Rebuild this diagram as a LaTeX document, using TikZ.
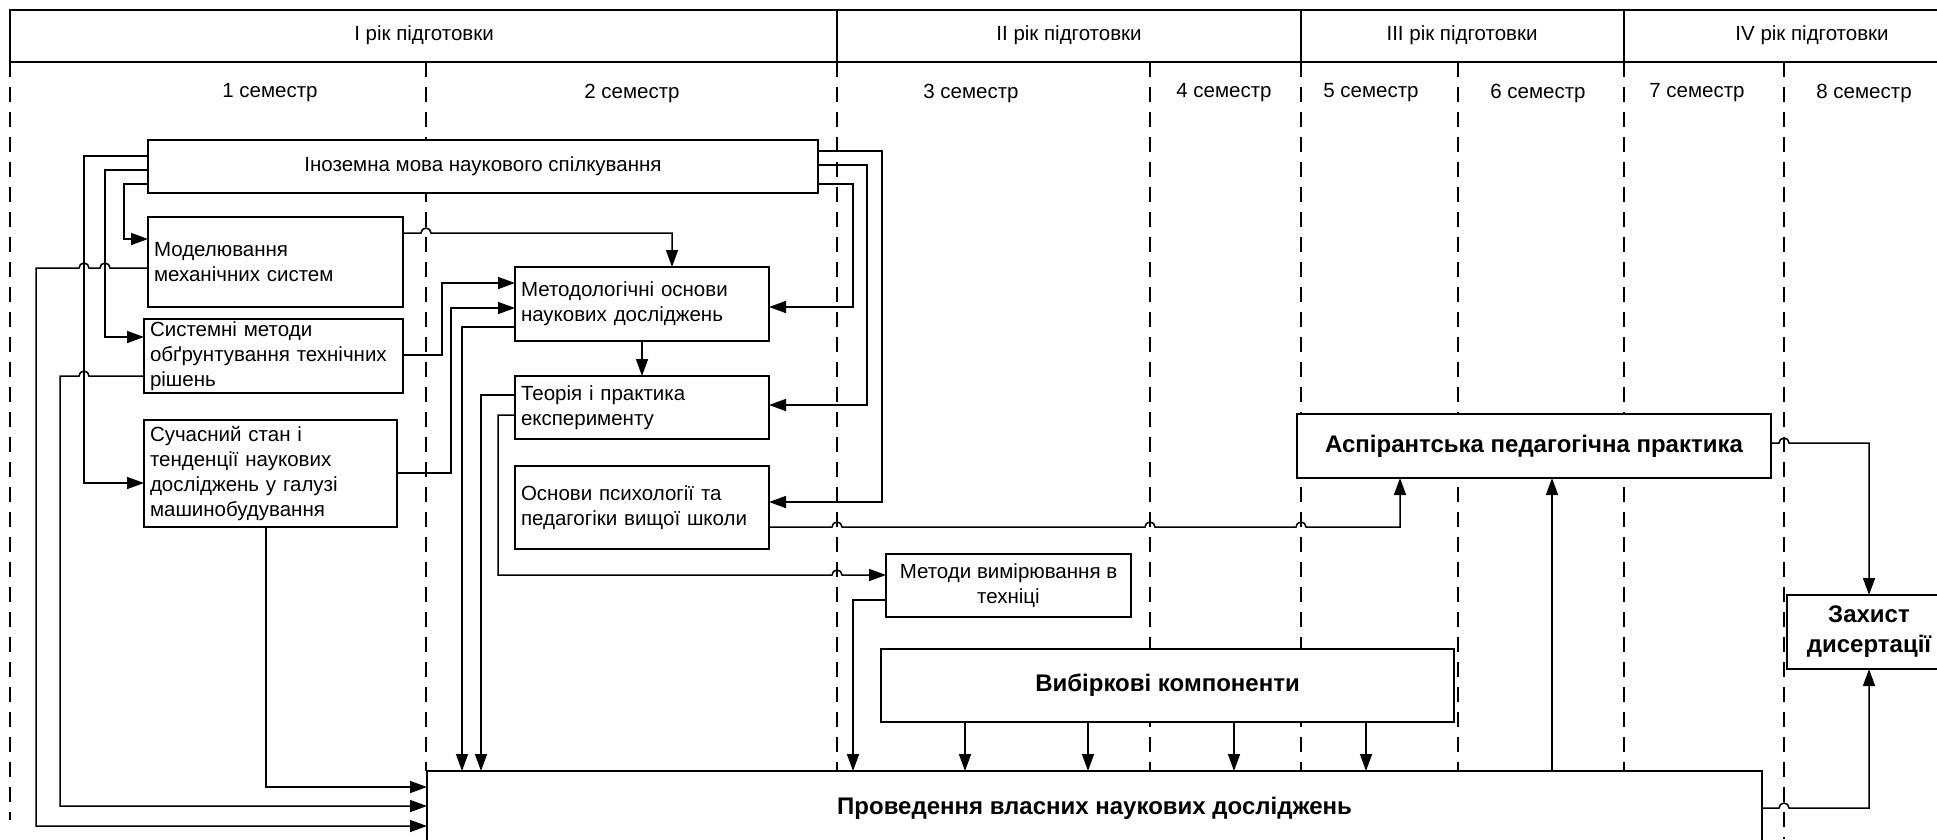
\documentclass[tikz,border=0pt]{standalone}
\usepackage{fontspec}
\setmainfont{Liberation Sans}
\usetikzlibrary{arrows.meta}
\newcommand{\hopr}[2]{-- (#1-5,#2) arc[start angle=180,end angle=0,radius=5pt]}
\newcommand{\hopl}[2]{-- (#1+5,#2) arc[start angle=0,end angle=180,radius=5pt]}

\begin{document}
\begin{tikzpicture}[x=1pt,y=-1pt,
    frame/.style={line width=1.7pt},
    semline/.style={line width=1.5pt,dash pattern=on 15pt off 10pt},
    lbl/.style={font=\fontsize{20.5}{25}\selectfont},
    box/.style={draw,fill=white,line width=1.8pt,outer sep=0pt,inner xsep=6pt,inner ysep=0pt,
      anchor=north west,font=\fontsize{20.5}{25}\selectfont},
    lbox/.style={box,align=left},
    cbox/.style={box,align=center},
    bbox/.style={box,align=center,font=\fontsize{24}{30}\selectfont\bfseries},
    conn/.style={line width=1.5pt},
    arr/.style={conn,-{Triangle[length=17pt,width=12pt]}}]
  \useasboundingbox (0,0) rectangle (1937,839);
  \clip (0,0) rectangle (1937,839);
  \draw[frame] (10,62) -- (10,10) -- (2000,10);
  \draw[frame] (10,62) -- (2000,62);
  \foreach \x in {837,1301,1624}
    \draw[frame] (\x,10) -- (\x,62);
  \node[lbl] (year1) at (424,35) {I рік підготовки};
  \node[lbl] (year2) at (1069,35) {II рік підготовки};
  \node[lbl] (year3) at (1462,35) {III рік підготовки};
  \node[lbl] (year4) at (1812,35) {IV рік підготовки};
  \foreach \x/\s in {270/1,632/2,971/3,1224/4,1371/5,1538/6,1697/7,1864/8}
    \node[lbl] (sem\s) at (\x,93) {\s\ семестр};
  \foreach \x in {426,837,1150,1301,1458,1624}
    \draw[semline] (\x,62) -- (\x,771);
  \draw[semline] (10,62) -- (10,820);
  \draw[semline] (1784,62) -- (1784,839);

  \node[cbox,minimum width=670pt,minimum height=53pt] (inoz) at (148,140) {Іноземна мова наукового спілкування};
  \node[lbox,text width=243pt,minimum height=90pt] (model) at (148,217) {Моделювання\\механічних систем};
  \node[lbox,text width=247pt,minimum height=74pt] (sysm) at (144,319) {Системні методи\\обґрунтування технічних\\рішень};
  \node[lbox,text width=241pt,minimum height=107pt] (suchas) at (144,420) {Сучасний стан і\\тенденції наукових\\досліджень у галузі\\машинобудування};
  \node[lbox,text width=242pt,minimum height=74pt] (metod) at (515,267) {Методологічні основи\\наукових досліджень};
  \node[lbox,text width=242pt,minimum height=63pt] (teor) at (515,376) {Теорія і практика\\експерименту};
  \node[lbox,text width=242pt,minimum height=83pt] (psych) at (515,466) {Основи психології та\\педагогіки вищої школи};
  \node[cbox,minimum width=245pt,minimum height=63pt] (vymir) at (886,554) {Методи вимірювання в\\техніці};
  \node[bbox,minimum width=573pt,minimum height=73pt] (vybir) at (881,649) {Вибіркові компоненти};
  \node[bbox,minimum width=1335pt,minimum height=74pt] (proved) at (427,771) {Проведення власних наукових досліджень};
  \node[bbox,minimum width=474pt,minimum height=64pt] (aspir) at (1297,414) {Аспірантська педагогічна практика};
  \node[bbox,minimum width=164pt,minimum height=74pt] (zakhyst) at (1787,595) {Захист\\дисертації};

  \draw[arr] (inoz.west |- 0,156) -- (84,156) |- (suchas.west |- 0,483);
  \draw[arr] (inoz.west |- 0,170) -- (105,170) |- (sysm.west |- 0,337);
  \draw[arr] (inoz.west |- 0,184) -- (124,184) |- (model.west |- 0,239);
  \draw[arr] (model.west |- 0,268) \hopl{105}{268} \hopl{84}{268} -- (36,268) |- (proved.west |- 0,826);
  \draw[arr] (sysm.west |- 0,376) \hopl{84}{376} -- (60,376) |- (proved.west |- 0,806);
  \draw[arr] (suchas.south -| 266,0) |- (proved.west |- 0,787);
  \draw[arr] (model.east |- 0,233) \hopr{426}{233} -- (672,233) -- (metod.north -| 672,0);
  \draw[arr] (sysm.east |- 0,355) -- (442,355) |- (metod.west |- 0,283);
  \draw[arr] (suchas.east |- 0,473) -- (451,473) |- (metod.west |- 0,308);
  \draw[arr] (metod.west |- 0,327) -| (proved.north -| 462,0);
  \draw[arr] (teor.west |- 0,395) -| (proved.north -| 481,0);
  \draw[arr] (teor.west |- 0,415) -- (498,415) -- (498,575) \hopr{837}{575} -- (vymir.west |- 0,575);
  \draw[arr] (metod.south) -- (teor.north);
  \draw[arr] (inoz.east |- 0,151) -- (882,151) |- (psych.east |- 0,502);
  \draw[arr] (inoz.east |- 0,165) -- (867,165) |- (teor.east |- 0,405);
  \draw[arr] (inoz.east |- 0,184) -- (853,184) |- (metod.east |- 0,307);
  \draw[arr] (psych.east |- 0,527) \hopr{837}{527} \hopr{1150}{527} \hopr{1301}{527} -- (1400,527) -- (aspir.south -| 1400,0);
  \draw[arr] (vymir.west |- 0,600) -| (proved.north -| 853,0);
  \foreach \x in {965,1088,1234,1366}
    \draw[arr] (vybir.south -| \x,0) -- (proved.north -| \x,0);
  \draw[arr] (proved.north -| 1552,0) -- (aspir.south -| 1552,0);
  \draw[arr] (aspir.east |- 0,443) \hopr{1784}{443} -- (1869,443) -- (zakhyst.north);
  \draw[arr] (proved.east |- 0,808) \hopr{1784}{808} -- (1869,808) -- (zakhyst.south);
\end{tikzpicture}
\end{document}
